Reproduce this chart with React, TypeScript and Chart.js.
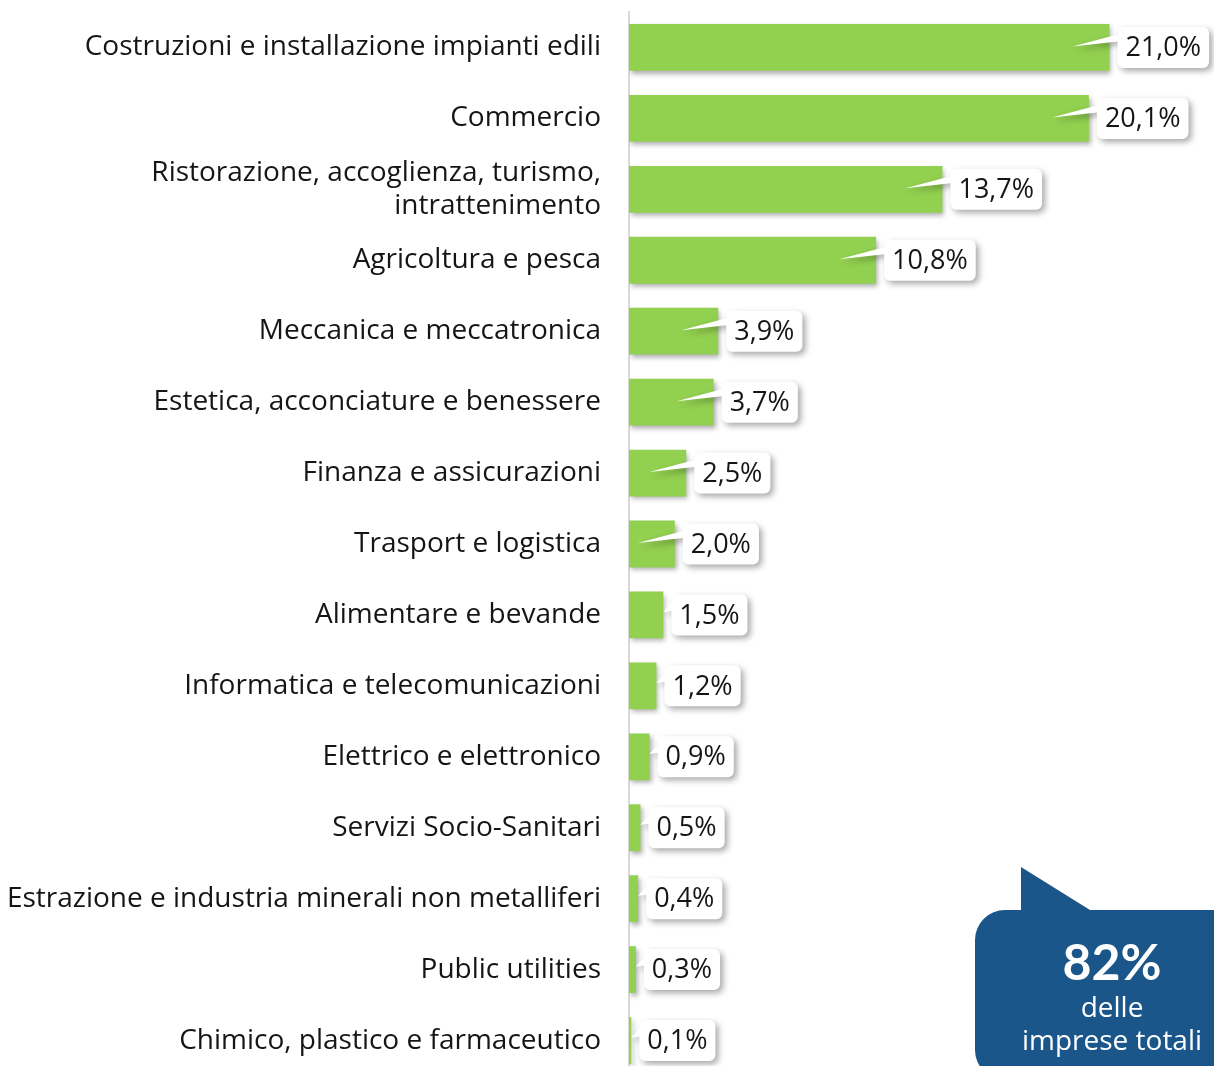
import React, { useEffect, useRef } from "react";
import { Chart, registerables } from "chart.js";

Chart.register(...registerables);

const categories: (string | string[])[] = [
  "Costruzioni e installazione impianti edili",
  "Commercio",
  ["Ristorazione, accoglienza, turismo,", "intrattenimento"],
  "Agricoltura e pesca",
  "Meccanica e meccatronica",
  "Estetica, acconciature e benessere",
  "Finanza e assicurazioni",
  "Trasport e logistica",
  "Alimentare e bevande",
  "Informatica e telecomunicazioni",
  "Elettrico e elettronico",
  "Servizi Socio-Sanitari",
  "Estrazione e industria minerali non metalliferi",
  "Public utilities",
  "Chimico, plastico e farmaceutico",
];

const shares: number[] = [21.0, 20.1, 13.7, 10.8, 3.9, 3.7, 2.5, 2.0, 1.5, 1.2, 0.9, 0.5, 0.4, 0.3, 0.1];

const calloutValue = "82%";
const calloutLines: string[] = ["delle", "imprese totali"];

const FONT = "'Open Sans'";
const BAR_COLOR = "#92d050";
const TEXT_COLOR = "#151515";
const BLUE = "#1a5689";

const fmt = (v: number) => v.toFixed(1).replace(".", ",") + "%";

const labelPlugin = {
  id: "calloutLabels",
  beforeDatasetsDraw(chart: any) {
    const ctx = chart.ctx;
    ctx.save();
    ctx.shadowColor = "rgba(0,0,0,0.32)";
    ctx.shadowBlur = 5;
    ctx.shadowOffsetX = 2;
    ctx.shadowOffsetY = 3;
  },
  afterDatasetsDraw(chart: any) {
    const ctx = chart.ctx;
    ctx.restore();
    const meta = chart.getDatasetMeta(0);
    const barStart = chart.chartArea.left;
    ctx.save();
    ctx.font = `27px ${FONT}`;
    meta.data.forEach((bar: any, i: number) => {
      const text = fmt(shares[i]);
      const tw = ctx.measureText(text).width;
      const y = bar.y;
      const L = bar.x + 8;
      const W = tw + 16;
      const H = 41;
      const T = y - H / 2;
      const B = T + H;
      const R = L + W;
      const r = 6;
      let tipX: number, tipY: number, b1: number, b2: number;
      if (L - 45 >= barStart + 6) {
        tipX = L - 45;
        tipY = y - 1;
        b1 = y - 6;
        b2 = y - 13;
      } else {
        tipX = L - 8;
        tipY = y - 3;
        b1 = y - 4;
        b2 = y - 12;
      }
      ctx.save();
      ctx.shadowColor = "rgba(0,0,0,0.35)";
      ctx.shadowBlur = 6;
      ctx.shadowOffsetX = 3;
      ctx.shadowOffsetY = 3;
      ctx.beginPath();
      ctx.moveTo(L + r, T);
      ctx.lineTo(R - r, T);
      ctx.arcTo(R, T, R, T + r, r);
      ctx.lineTo(R, B - r);
      ctx.arcTo(R, B, R - r, B, r);
      ctx.lineTo(L + r, B);
      ctx.arcTo(L, B, L, B - r, r);
      ctx.lineTo(L, b1);
      ctx.lineTo(tipX, tipY);
      ctx.lineTo(L, b2);
      ctx.lineTo(L, T + r);
      ctx.arcTo(L, T, L + r, T, r);
      ctx.closePath();
      ctx.fillStyle = "#ffffff";
      ctx.fill();
      ctx.restore();
      ctx.fillStyle = TEXT_COLOR;
      ctx.textAlign = "center";
      ctx.textBaseline = "middle";
      ctx.fillText(text, L + W / 2, y + 1);
    });
    ctx.restore();
  },
  afterDraw(chart: any) {
    const ctx = chart.ctx;
    ctx.save();
    // blue speech bubble
    const L = 975, T = 910, R = 1230, B = 1080, r = 30;
    ctx.fillStyle = BLUE;
    ctx.beginPath();
    ctx.moveTo(L + r, T);
    ctx.lineTo(1021, T);
    ctx.lineTo(1021, 867);
    ctx.lineTo(1090, T);
    ctx.lineTo(R, T);
    ctx.lineTo(R, B);
    ctx.lineTo(L + r, B);
    ctx.arcTo(L, B, L, B - r, r);
    ctx.lineTo(L, T + r);
    ctx.arcTo(L, T, L + r, T, r);
    ctx.closePath();
    ctx.fill();
    ctx.fillStyle = "#ffffff";
    ctx.textAlign = "center";
    ctx.textBaseline = "alphabetic";
    ctx.font = `bold 50px Lato`;
    ctx.fillText(calloutValue, 1112, 980);
    ctx.font = `28px ${FONT}`;
    ctx.fillText(calloutLines[0], 1112, 1017);
    ctx.fillText(calloutLines[1], 1112, 1050);
    ctx.restore();
  },
};

export default function App() {
  const canvasRef = useRef<HTMLCanvasElement | null>(null);

  useEffect(() => {
    if (!canvasRef.current) return;
    const chart = new Chart(canvasRef.current, {
      type: "bar",
      data: {
        labels: categories,
        datasets: [
          {
            data: shares,
            backgroundColor: BAR_COLOR,
            borderWidth: 0,
            categoryPercentage: 1,
            barPercentage: 0.66,
          },
        ],
      },
      options: {
        indexAxis: "y",
        responsive: false,
        animation: false,
        devicePixelRatio: 1,
        layout: { padding: { top: 12, bottom: 14, left: 0, right: 13 } },
        plugins: {
          legend: { display: false },
          tooltip: { enabled: false },
        },
        scales: {
          x: {
            display: false,
            min: 0,
            max: 25,
          },
          y: {
            grid: { display: false, drawTicks: false },
            border: { display: true, color: "#d9d9d9", width: 2 },
            ticks: {
              color: TEXT_COLOR,
              padding: 28,
              font: { family: FONT, size: 28, lineHeight: 1.2 },
            },
            afterFit(scale: any) {
              scale.width = 629;
              scale.paddingTop = 0;
              scale.paddingBottom = 0;
            },
          },
        },
      } as any,
      plugins: [labelPlugin],
    });
    return () => chart.destroy();
  }, []);

  return (
    <div
      style={{
        position: "fixed",
        left: 0,
        top: 0,
        width: 1214,
        height: 1066,
        overflow: "hidden",
        background: "#ffffff",
      }}
    >
      <canvas ref={canvasRef} width={1214} height={1090} style={{ display: "block" }} />
    </div>
  );
}
